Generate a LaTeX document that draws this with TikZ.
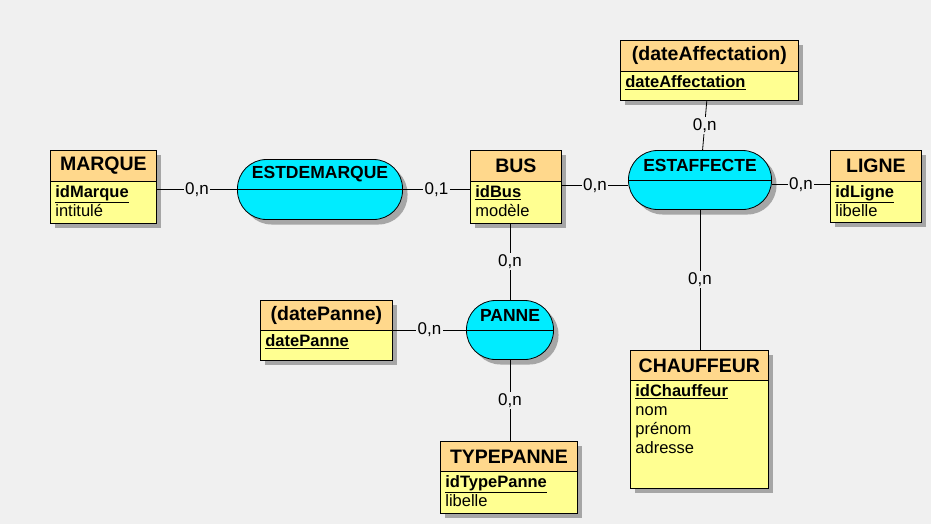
\documentclass[tikz,border=0pt]{standalone}
\usepackage{fontspec}
\setmainfont{Liberation Sans}
\usetikzlibrary{shadows}
\definecolor{bg}{RGB}{240,240,240}
\definecolor{enthead}{RGB}{255,216,140}
\definecolor{entbody}{RGB}{255,255,145}
\definecolor{assofill}{RGB}{0,236,255}
\newcommand{\idkey}[1]{\textbf{\underline{#1}}}

\begin{document}
\begin{tikzpicture}[
  x=1pt, y=-1pt, line width=0.8pt,
  shad/.style={drop shadow={shadow xshift=5pt, shadow yshift=-5pt, opacity=1, fill=black!35}},
  ent/.style={draw, fill=entbody, anchor=north west, inner sep=0pt, shad},
  hd/.style={draw, fill=enthead, anchor=north west, inner sep=0pt, minimum height=31pt,
    font=\bfseries\fontsize{19.5}{20}\selectfont},
  att/.style={anchor=north west, inner sep=0pt, align=left, font=\fontsize{16.5}{19}\selectfont},
  as/.style={draw, fill=assofill, rounded corners=29pt, inner sep=0pt, minimum height=59pt, shad},
  an/.style={font=\bfseries\fontsize{17.5}{18}\selectfont},
  card/.style={fill=bg, inner sep=1.5pt, font=\fontsize{17}{17}\selectfont}
]
\fill[bg] (0,0) rectangle (931,524);
\useasboundingbox (0,0) rectangle (931,524);

% entities
\node[ent, minimum width=106pt, minimum height=73pt] (marque) at (50,150) {};
\node[hd, minimum width=106pt] (marque-t) at (marque.north west) {MARQUE};
\node[att] (marque-a) at ([xshift=5pt,yshift=-3pt]marque-t.south west) {\idkey{idMarque}\\intitulé};

\node[ent, minimum width=91pt, minimum height=73pt] (bus) at (470,150) {};
\node[hd, minimum width=91pt] (bus-t) at (bus.north west) {BUS};
\node[att] (bus-a) at ([xshift=5pt,yshift=-3pt]bus-t.south west) {\idkey{idBus}\\modèle};

\node[ent, minimum width=91pt, minimum height=72pt] (ligne) at (830,150) {};
\node[hd, minimum width=91pt] (ligne-t) at (ligne.north west) {LIGNE};
\node[att] (ligne-a) at ([xshift=5pt,yshift=-3pt]ligne-t.south west) {\idkey{idLigne}\\libelle};

\node[ent, minimum width=178pt, minimum height=60pt] (dateaff) at (620,40) {};
\node[hd, minimum width=178pt] (dateaff-t) at (dateaff.north west) {(dateAffectation)};
\node[att] (dateaff-a) at ([xshift=5pt,yshift=-3pt]dateaff-t.south west) {\idkey{dateAffectation}};

\node[ent, minimum width=132pt, minimum height=60pt] (datepanne) at (260,300) {};
\node[hd, minimum width=132pt, minimum height=30pt] (datepanne-t) at (datepanne.north west) {(datePanne)};
\node[att] (datepanne-a) at ([xshift=5pt,yshift=-3pt]datepanne-t.south west) {\idkey{datePanne}};

\node[ent, minimum width=137pt, minimum height=72pt] (typepanne) at (440,441) {};
\node[hd, minimum width=137pt, minimum height=30pt] (typepanne-t) at (typepanne.north west) {TYPEPANNE};
\node[att] (typepanne-a) at ([xshift=5pt,yshift=-3pt]typepanne-t.south west) {\idkey{idTypePanne}\\libelle};

\node[ent, minimum width=138pt, minimum height=138pt] (chauffeur) at (630,350) {};
\node[hd, minimum width=138pt, minimum height=30pt] (chauffeur-t) at (chauffeur.north west) {CHAUFFEUR};
\node[att] (chauffeur-a) at ([xshift=5pt,yshift=-3pt]chauffeur-t.south west) {\idkey{idChauffeur}\\nom\\prénom\\adresse};

% associations
\node[as, minimum width=165pt, minimum height=60pt] (estdemarque) at (320,189.5) {};
\draw (estdemarque.west) -- (estdemarque.east);
\node[an] (estdemarque-t) at ([yshift=15pt]estdemarque.center) {ESTDEMARQUE};

\node[as, minimum width=143pt] (estaffecte) at (700,180) {};
\draw (estaffecte.west) -- (estaffecte.east);
\node[an] (estaffecte-t) at ([yshift=15pt]estaffecte.center) {ESTAFFECTE};

\node[as, minimum width=87pt] (panne) at (510,330) {};
\draw (panne.west) -- (panne.east);
\node[an] (panne-t) at ([yshift=15pt]panne.center) {PANNE};

% links
\draw (marque.east |- estdemarque) -- node[card] {0,n} (estdemarque.west);
\draw (estdemarque.east) -- node[card] {0,1} (estdemarque.east -| bus.west);
\draw ([yshift=1.5pt]bus.east) -- node[card] {0,n} ([yshift=1.5pt]bus.east -| estaffecte.west);
\draw ([yshift=2pt]ligne.west -| estaffecte.east) -- node[card] {0,n} ([yshift=2pt]ligne.west);
\draw (dateaff) -- node[card] {0,n} (estaffecte);
\draw (estaffecte.south) -- node[card] {0,n} (estaffecte.south |- chauffeur.north);
\draw (panne.north |- bus.south) -- node[card] {0,n} (panne.north);
\draw (datepanne.east |- panne) -- node[card] {0,n} (panne.west);
\draw (panne.south) -- node[card] {0,n} (panne.south |- typepanne.north);
\end{tikzpicture}
\end{document}
